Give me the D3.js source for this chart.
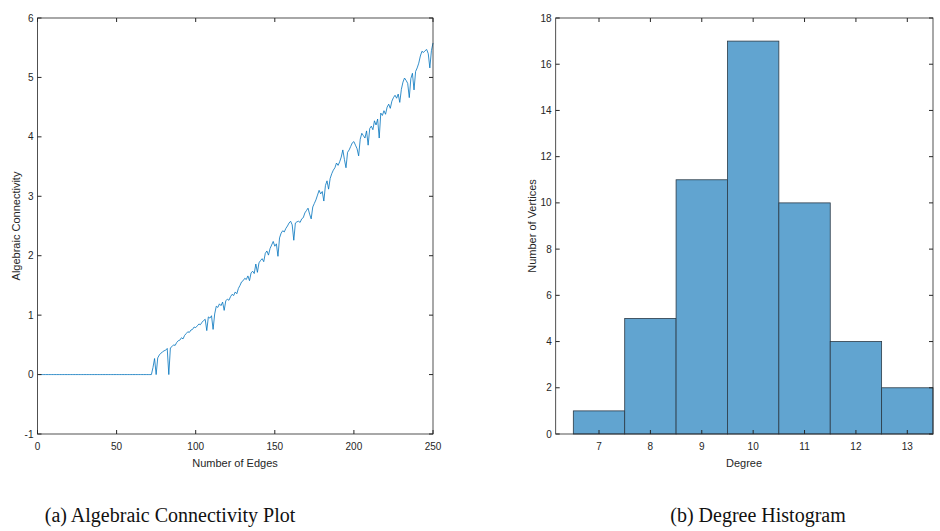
<!DOCTYPE html>
<html>
<head>
<meta charset="utf-8">
<script src="https://cdn.jsdelivr.net/npm/d3@7"></script>
<style>
	body { margin: 0; background: #fff; }
	text { font-family: "Liberation Sans", Arial, sans-serif; fill: #262626; }
	.caption { font-family: "Liberation Serif", "DejaVu Serif", serif; fill: #111; }
</style>
</head>
<body>
<div id="figure"></div>
<script>

// algebraic connectivity for edges 1..250
let connectivity = [
	0,0,0,0,0,0,0,0,0,0, 0,0,0,0,0,0,0,0,0,0,
	0,0,0,0,0,0,0,0,0,0, 0,0,0,0,0,0,0,0,0,0,
	0,0,0,0,0,0,0,0,0,0, 0,0,0,0,0,0,0,0,0,0,
	0,0,0,0,0,0,0,0,0,0, 0,0,
	0.12,0.27,0.00,0.28,0.33,0.36,0.38,0.40,0.41,0.44,
	0.00,0.45,0.47,0.50,0.49,0.54,0.57,0.58,0.62,0.60,
	0.66,0.69,0.72,0.71,0.75,0.76,0.80,0.79,0.82,0.85,
	0.84,0.88,0.91,0.93,0.74,0.97,0.95,0.99,0.76,1.02,
	1.15,1.13,1.19,1.16,1.22,1.08,1.24,1.27,1.25,1.31,
	1.35,1.33,1.39,1.36,1.45,1.50,1.56,1.58,1.62,1.60,
	1.66,1.58,1.71,1.74,1.70,1.86,1.72,1.88,1.92,1.95,
	1.90,2.04,2.08,2.01,2.12,2.18,2.24,2.16,2.20,1.99,
	2.30,2.38,2.42,2.40,2.46,2.50,2.55,2.58,2.52,2.26,
	2.55,2.57,2.58,2.56,2.62,2.64,2.72,2.76,2.80,2.70,
	2.62,2.82,2.88,2.94,3.02,3.10,3.04,3.08,2.92,3.18,
	3.26,3.12,3.30,3.38,3.44,3.48,3.56,3.52,3.58,3.66,
	3.78,3.62,3.48,3.74,3.78,3.84,3.90,3.92,3.86,3.80,
	3.68,3.96,4.06,4.02,3.98,4.10,3.86,4.14,4.18,4.12,
	4.27,4.20,4.30,3.98,4.40,4.36,4.44,4.38,4.50,4.55,
	4.48,4.60,4.66,4.70,4.65,4.72,4.58,4.80,4.92,4.99,
	4.95,4.90,4.66,4.98,5.07,4.79,5.10,5.16,5.24,5.36,
	5.44,5.42,5.45,5.47,5.40,5.16,5.45,5.58
];

let degrees = [7, 8, 9, 10, 11, 12, 13];
let vertexCounts = [1, 5, 11, 17, 10, 4, 2];

let edgeTicks = [0, 50, 100, 150, 200, 250];
let connTicks = [-1, 0, 1, 2, 3, 4, 5, 6];
let countTicks = [0, 2, 4, 6, 8, 10, 12, 14, 16, 18];

let axisColor = "#262626";

function drawBox(g, x, y, xTicks, yTicks){
	let [x0, x1] = x.range();
	let [y0, y1] = y.range();
	let tl = 4;

	// inward ticks on all four sides
	xTicks.forEach(function(t){
		g.append("line").attr("x1", x(t)).attr("x2", x(t)).attr("y1", y0).attr("y2", y0 - tl).attr("stroke", axisColor);
		g.append("line").attr("x1", x(t)).attr("x2", x(t)).attr("y1", y1).attr("y2", y1 + tl).attr("stroke", axisColor);
		g.append("text").attr("x", x(t)).attr("y", y0 + 16).attr("text-anchor", "middle").attr("font-size", 10).text(t);
	});
	yTicks.forEach(function(t){
		g.append("line").attr("x1", x0).attr("x2", x0 + tl).attr("y1", y(t)).attr("y2", y(t)).attr("stroke", axisColor);
		g.append("line").attr("x1", x1).attr("x2", x1 - tl).attr("y1", y(t)).attr("y2", y(t)).attr("stroke", axisColor);
		g.append("text").attr("x", x0 - 4).attr("y", y(t) + 3.5).attr("text-anchor", "end").attr("font-size", 10).text(t);
	});

	g.append("rect")
		.attr("x", x0).attr("y", y1)
		.attr("width", x1 - x0).attr("height", y0 - y1)
		.attr("fill", "none")
		.attr("stroke", axisColor)
		.attr("stroke-width", 0.8);
}

function initializeFigure(){

	let svg = d3.select("#figure")
		.append("svg")
		.attr("width", 940)
		.attr("height", 531);

	// (a) algebraic connectivity
	let edgeScale = d3.scaleLinear().domain([0, 250]).range([37.5, 433]);
	let connScale = d3.scaleLinear().domain([-1, 6]).range([434, 18]);

	let left = svg.append("g");

	let line = d3.line()
		.x((d, i) => edgeScale(i + 1))
		.y(d => connScale(d));

	left.append("path")
		.datum(connectivity)
		.attr("d", line)
		.attr("fill", "none")
		.attr("stroke", "#0072BD")
		.attr("stroke-width", 0.8);

	drawBox(left, edgeScale, connScale, edgeTicks, connTicks);

	left.append("text")
		.attr("x", 235).attr("y", 467)
		.attr("text-anchor", "middle").attr("font-size", 11)
		.text("Number of Edges");

	left.append("text")
		.attr("transform", "translate(20, 226) rotate(-90)")
		.attr("text-anchor", "middle").attr("font-size", 11)
		.text("Algebraic Connectivity");

	// (b) degree histogram
	let degreeScale = d3.scaleLinear().domain([6.157, 13.5]).range([555.7, 933]);
	let countScale = d3.scaleLinear().domain([0, 18]).range([434, 18]);

	let right = svg.append("g");

	right.selectAll("rect.bar")
		.data(degrees)
		.enter()
		.append("rect")
		.attr("class", "bar")
		.attr("x", d => degreeScale(d - 0.5))
		.attr("y", (d, i) => countScale(vertexCounts[i]))
		.attr("width", d => degreeScale(d + 0.5) - degreeScale(d - 0.5))
		.attr("height", (d, i) => countScale(0) - countScale(vertexCounts[i]))
		.attr("fill", "#61a4d0")
		.attr("stroke", "#2b3a46")
		.attr("stroke-width", 0.8);

	drawBox(right, degreeScale, countScale, degrees, countTicks);

	right.append("text")
		.attr("x", 744).attr("y", 467)
		.attr("text-anchor", "middle").attr("font-size", 11)
		.text("Degree");

	right.append("text")
		.attr("transform", "translate(536, 226) rotate(-90)")
		.attr("text-anchor", "middle").attr("font-size", 11)
		.text("Number of Vertices");

	// captions
	svg.append("text").attr("class", "caption")
		.attr("x", 170).attr("y", 522)
		.attr("text-anchor", "middle").attr("font-size", 20)
		.text("(a) Algebraic Connectivity Plot");

	svg.append("text").attr("class", "caption")
		.attr("x", 758).attr("y", 522)
		.attr("text-anchor", "middle").attr("font-size", 20)
		.text("(b) Degree Histogram");
}

initializeFigure();
</script>
</body>
</html>
